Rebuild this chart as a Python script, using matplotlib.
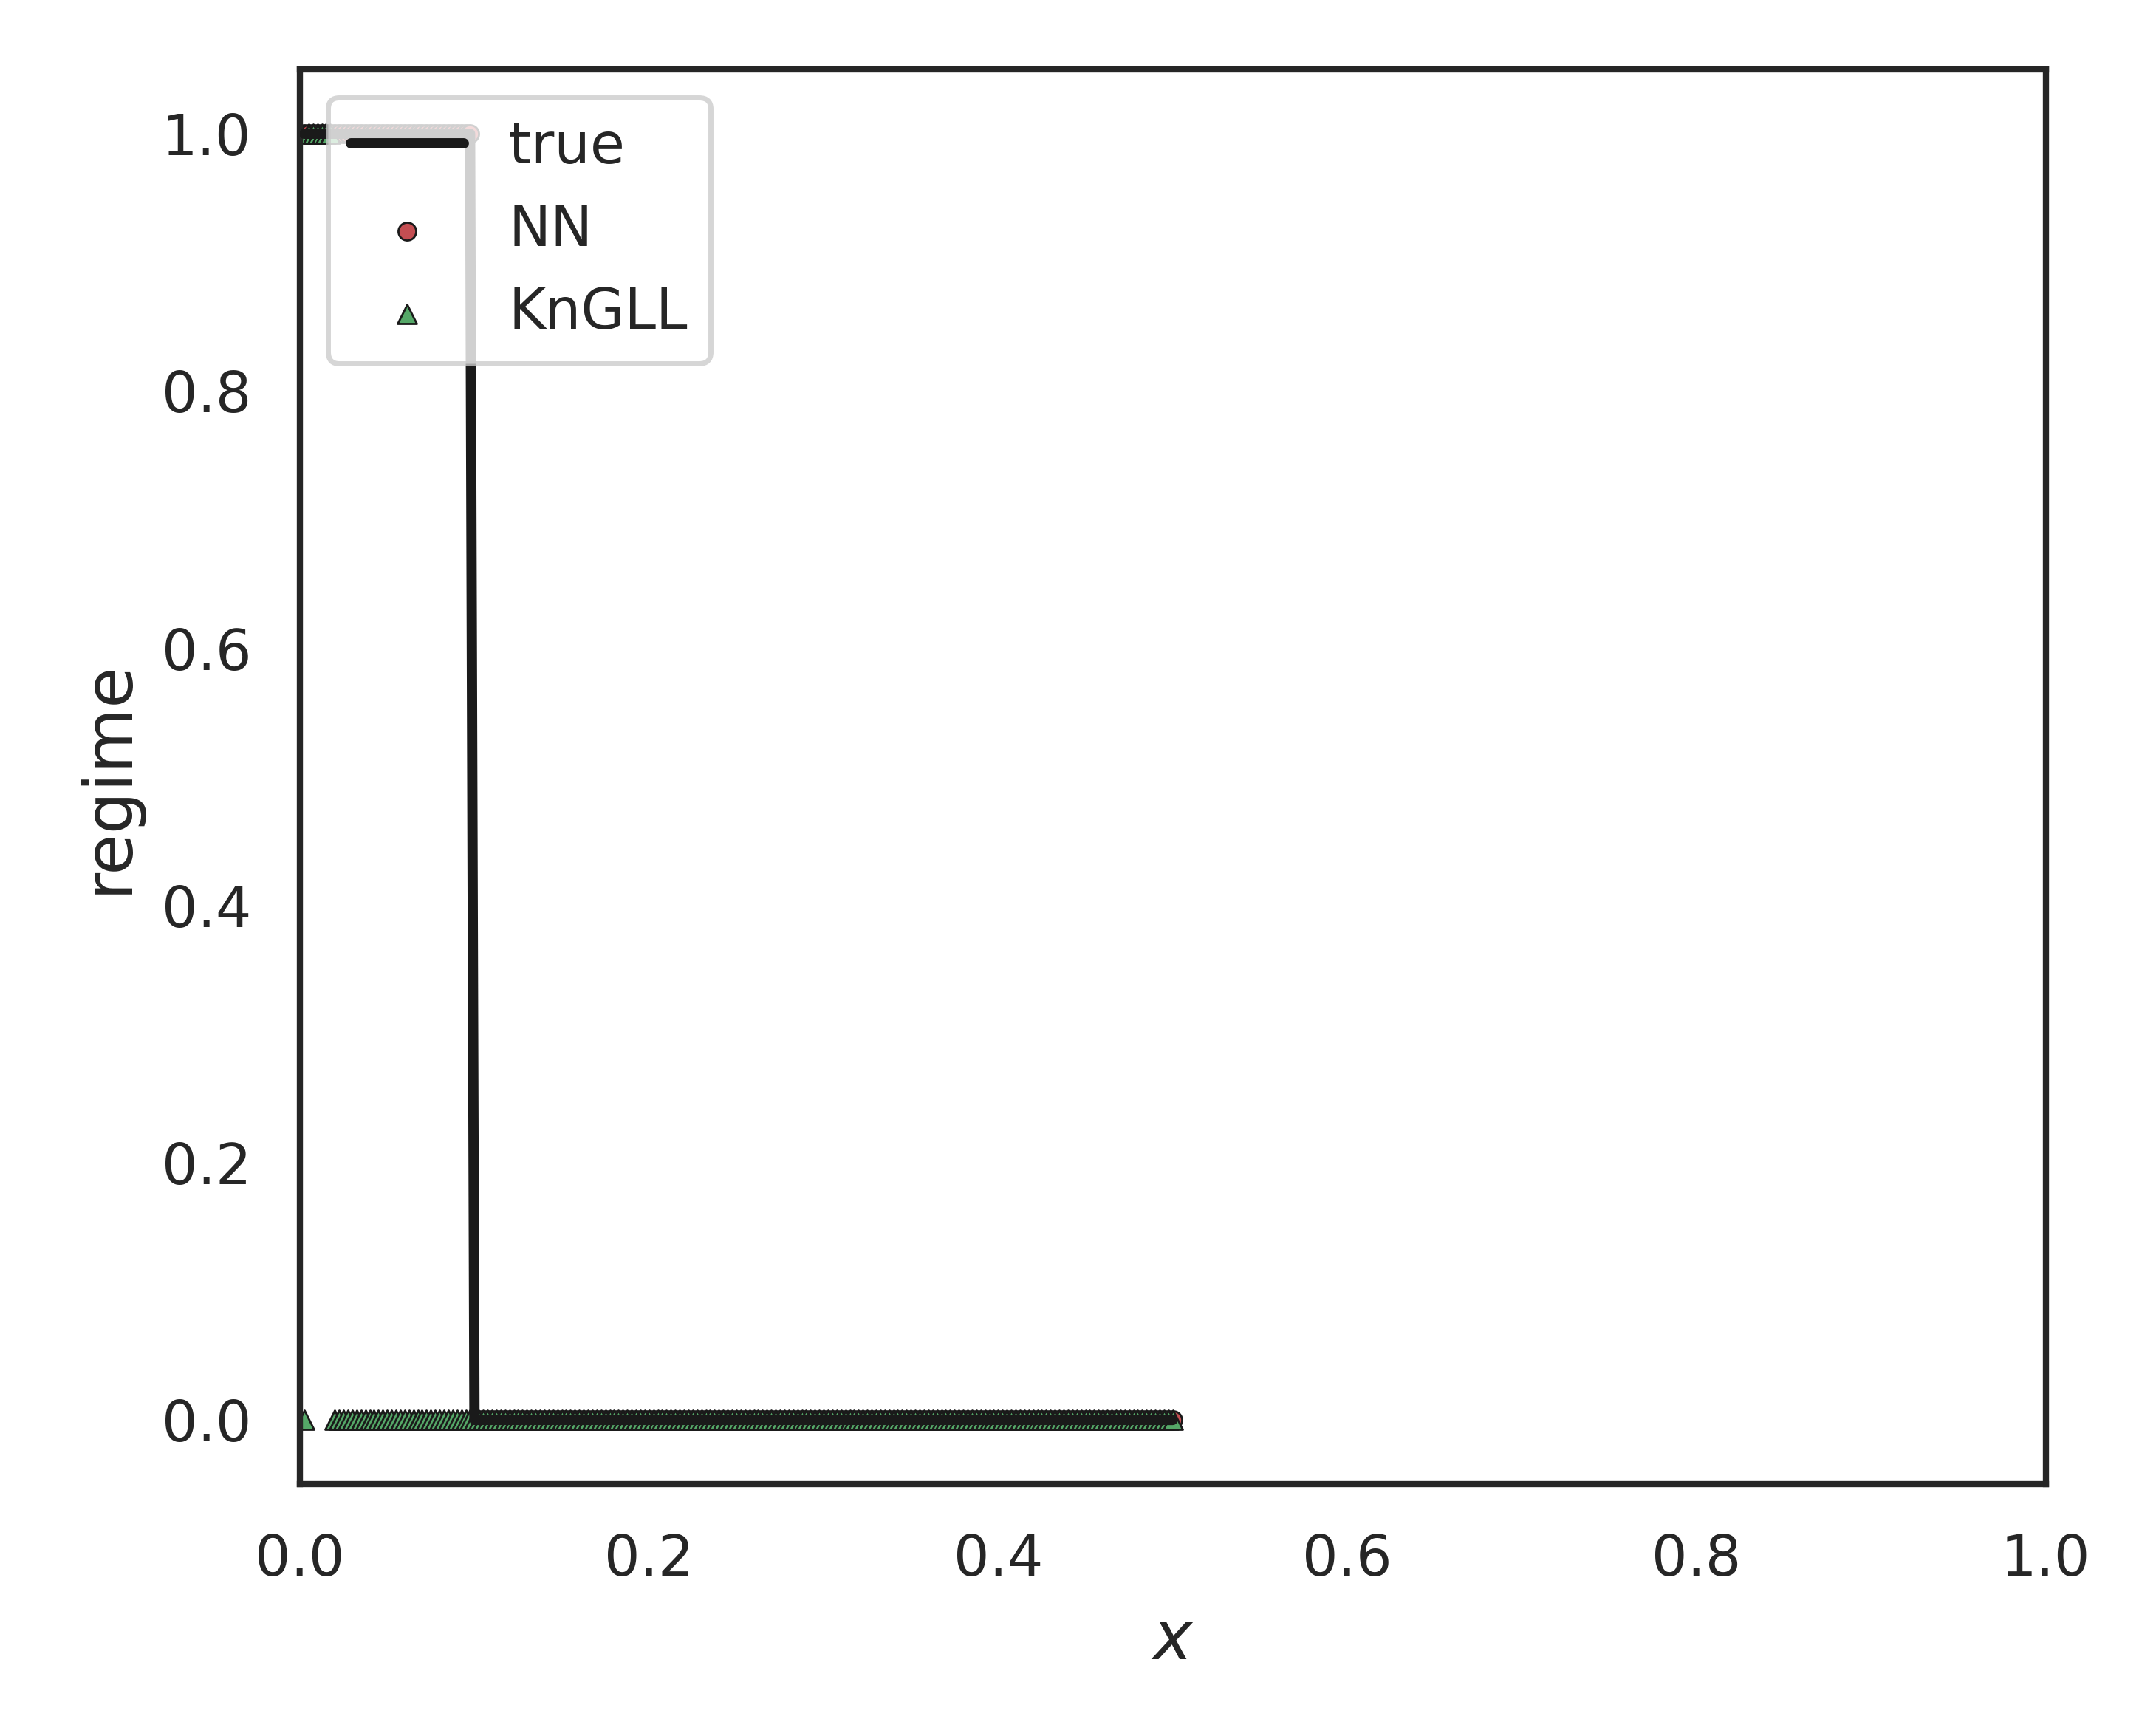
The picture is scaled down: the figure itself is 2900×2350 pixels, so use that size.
import numpy as np
import matplotlib
matplotlib.use('Agg')
import matplotlib.pyplot as plt
import seaborn as sns

# grid points, step 0.0025 from 0.0025 to 0.5
x = np.arange(1, 201) * 0.0025

# regimes given as (value, number of points) runs
TRUE_RUNS = [(1, 39), (0, 161)]
NN_RUNS = [(1, 39), (0, 161)]
KNGLL_RUNS = [(0, 1), (1, 6), (0, 193)]


def expand(runs):
    return np.concatenate([np.full(n, v) for v, n in runs])


y_true = expand(TRUE_RUNS)
y_nn = expand(NN_RUNS)
y_kngll = expand(KNGLL_RUNS)

sns.set_theme(style='white')
plt.rcParams['font.family'] = ['DejaVu Sans']

fig, ax = plt.subplots(figsize=(5.8, 4.7), dpi=500)
ax.plot(x, y_true, color='k', lw=2, label='true', zorder=3)
ax.scatter(x, y_nn, s=12, c='#c44e52', edgecolors='k', linewidths=0.4, label='NN', zorder=2)
ax.scatter(x, y_kngll, s=14, marker='^', c='#55a868', edgecolors='k', linewidths=0.4,
           label='KnGLL', zorder=2)
ax.set_xlim(0, 1)
ax.set_ylim(-0.05, 1.05)
ax.set_xlabel('$x$', fontsize=13)
ax.set_ylabel('regime', fontsize=13)
ax.tick_params(labelsize=11)
for s in ax.spines.values():
    s.set_color('#262626')
    s.set_linewidth(1.2)
ax.legend(loc='upper left', fontsize=11)
fig.subplots_adjust(left=0.14, right=0.955, top=0.96, bottom=0.145)
fig.savefig('out.png')
